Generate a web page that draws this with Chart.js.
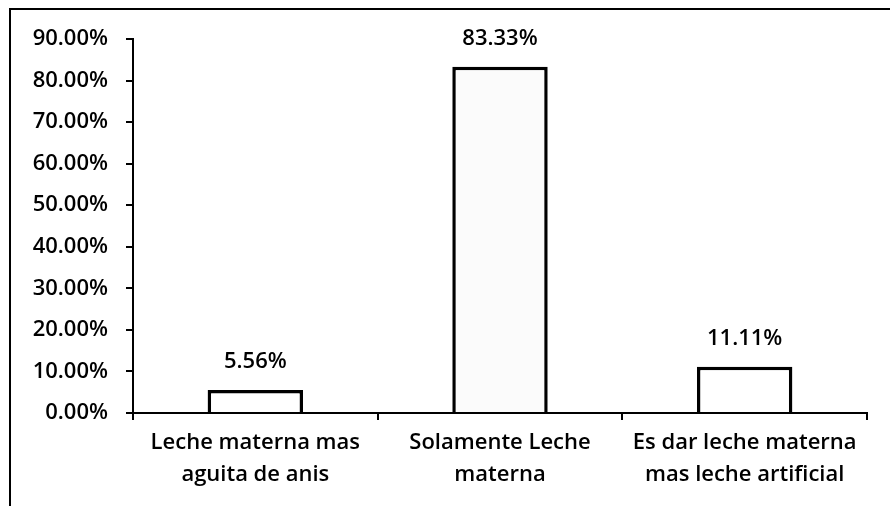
<!DOCTYPE html>
<html>
<head>
<meta charset="utf-8">
<script src="https://cdn.jsdelivr.net/npm/chart.js@4/dist/chart.umd.min.js"></script>
<style>
  html, body { margin: 0; padding: 0; background: #fff; }
  #wrap { position: relative; width: 890px; height: 506px; }
  #frame { position: absolute; left: 9px; top: 8px; width: 900px; height: 520px;
           border-left: 2px solid #000; border-top: 2px solid #000; pointer-events: none; }
  canvas { position: absolute; left: 0; top: 0; }
</style>
</head>
<body>
<div id="wrap">
  <canvas id="c" width="890" height="506"></canvas>
  <div id="frame"></div>
</div>
<script>
const categories = [
  ["Leche materna mas", "aguita de anis"],
  ["Solamente Leche", "materna"],
  ["Es dar leche materna", "mas leche artificial"]
];
const values = [5.56, 83.33, 11.11];
const valueLabels = ["5.56%", "83.33%", "11.11%"];
const yTicks = [0, 10, 20, 30, 40, 50, 60, 70, 80, 90];

const FONT = "'Open Sans', 'Liberation Sans', sans-serif";
const WEIGHT = 600;

const labelPlugin = {
  id: 'valueLabels',
  afterDatasetsDraw(chart) {
    const ctx = chart.ctx;
    const meta = chart.getDatasetMeta(0);
    ctx.save();
    ctx.font = WEIGHT + " 22px " + FONT;
    ctx.fillStyle = "#000";
    ctx.textAlign = "center";
    ctx.textBaseline = "middle";
    meta.data.forEach((bar, i) => {
      ctx.fillText(valueLabels[i], bar.x, bar.y - 28);
    });
    ctx.restore();
  }
};

new Chart(document.getElementById('c'), {
  type: 'bar',
  data: {
    labels: categories,
    datasets: [{
      data: values,
      backgroundColor: ['#ffffff', '#fbfbfb', '#ffffff'],
      borderColor: '#000',
      borderWidth: 3.5,
      categoryPercentage: 1,
      barPercentage: 0.39
    }]
  },
  options: {
    responsive: false,
    animation: false,
    devicePixelRatio: 1,
    layout: { padding: { left: 0, top: 39, right: 23, bottom: 0 } },
    plugins: { legend: { display: false }, tooltip: { enabled: false } },
    scales: {
      x: {
        grid: { display: true, drawOnChartArea: false, drawTicks: true, tickLength: 7, color: '#000', lineWidth: 2, offset: true },
        border: { display: true, color: '#000', width: 2 },
        ticks: { color: '#000', font: { family: FONT, size: 22, weight: WEIGHT, lineHeight: 1.45 }, padding: 7, maxRotation: 0, autoSkip: false },
        afterFit(scale) { scale.height = 93; }
      },
      y: {
        min: 0, max: 90,
        grid: { display: true, drawOnChartArea: false, drawTicks: true, tickLength: 7, color: '#000', lineWidth: 2 },
        border: { display: true, color: '#000', width: 2 },
        afterBuildTicks(scale) { scale.ticks = yTicks.map(v => ({ value: v })); },
        ticks: {
          color: '#000', font: { family: FONT, size: 22, weight: WEIGHT }, padding: 18,
          callback: v => v.toFixed(2) + '%'
        },
        afterFit(scale) { scale.width = 133; }
      }
    }
  },
  plugins: [labelPlugin]
});
</script>
</body>
</html>
